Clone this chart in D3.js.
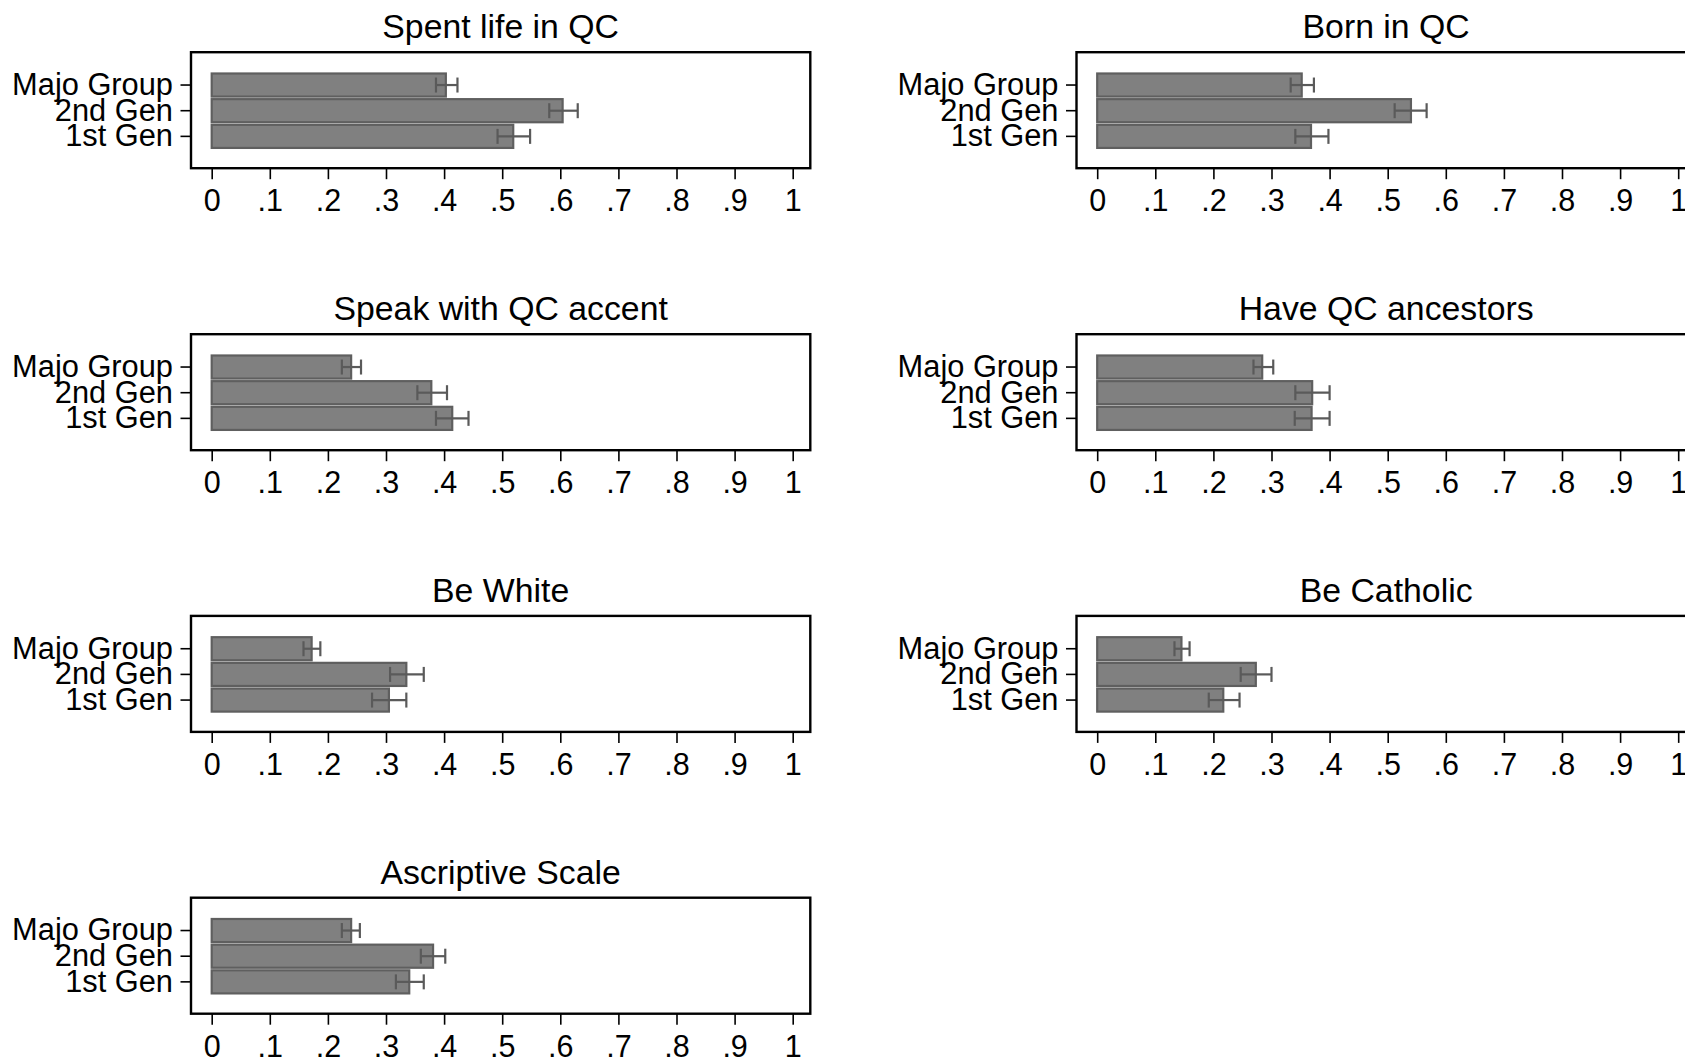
<!DOCTYPE html>
<html>
<head>
<meta charset="utf-8">
<script src="https://cdn.jsdelivr.net/npm/d3@7"></script>
<style>
  html, body { margin: 0; padding: 0; background: #fff; }
  svg { display: block; font-family: "Liberation Sans", Arial, Helvetica, sans-serif; }
</style>
</head>
<body>
<svg id="chart" width="1685" height="1059"></svg>
<script>
// ---- data ----
const categories = ["Majo Group", "2nd Gen", "1st Gen"];
const panelTitles = [
  "Spent life in QC", "Born in QC",
  "Speak with QC accent", "Have QC ancestors",
  "Be White", "Be Catholic",
  "Ascriptive Scale"
];
// means per panel, in category order (Majo Group, 2nd Gen, 1st Gen)
const meanValues = [
  [0.403, 0.604, 0.519],
  [0.352, 0.540, 0.368],
  [0.240, 0.378, 0.414],
  [0.284, 0.370, 0.369],
  [0.172, 0.335, 0.305],
  [0.145, 0.273, 0.217],
  [0.240, 0.381, 0.340]
];
const lowValues = [
  [0.386, 0.581, 0.492],
  [0.333, 0.512, 0.341],
  [0.224, 0.354, 0.386],
  [0.269, 0.341, 0.340],
  [0.158, 0.307, 0.276],
  [0.133, 0.247, 0.192],
  [0.224, 0.360, 0.317]
];
const highValues = [
  [0.423, 0.630, 0.548],
  [0.373, 0.567, 0.398],
  [0.257, 0.405, 0.442],
  [0.303, 0.400, 0.400],
  [0.187, 0.365, 0.335],
  [0.159, 0.300, 0.245],
  [0.255, 0.402, 0.365]
];
const xTickValues = [0, 0.1, 0.2, 0.3, 0.4, 0.5, 0.6, 0.7, 0.8, 0.9, 1];
const xTickLabels = ["0", ".1", ".2", ".3", ".4", ".5", ".6", ".7", ".8", ".9", "1"];

// ---- layout ----
const svg = d3.select("#chart");
const frameW = 619.3, frameH = 116;
const colLeft = [191, 1076.5];
const rowTop = [52.2, 334.2, 615.9, 897.7];
const plotPadL = 20.7, plotPadR = 17.6;

panelTitles.forEach((title, i) => {
  const col = i % 2, row = Math.floor(i / 2);
  const fl = colLeft[col], ft = rowTop[row];
  const g = svg.append("g");

  const x = d3.scaleLinear().domain([0, 1]).range([fl + plotPadL, fl + frameW - plotPadR]);
  const y = d3.scaleBand().domain(categories)
    .range([ft + 20, ft + 97]).paddingInner(0.1).paddingOuter(0.05);

  // frame
  g.append("rect")
    .attr("x", fl).attr("y", ft).attr("width", frameW).attr("height", frameH)
    .attr("fill", "#fff").attr("stroke", "#000").attr("stroke-width", 2.4);

  // title
  g.append("text")
    .attr("x", fl + frameW / 2).attr("y", ft - 14)
    .attr("text-anchor", "middle")
    .attr("font-size", 33.8)
    .attr("fill", "#000")
    .text(title);

  // bars
  g.selectAll("rect.bar").data(categories).enter().append("rect")
    .attr("class", "bar")
    .attr("x", x(0))
    .attr("y", d => y(d))
    .attr("width", (d, j) => x(meanValues[i][j]) - x(0))
    .attr("height", y.bandwidth())
    .attr("fill", "#808080")
    .attr("stroke", "#5f5f5f")
    .attr("stroke-width", 2.2);

  // error bars
  const capH = 15;
  const eb = g.selectAll("g.eb").data(categories).enter().append("g")
    .attr("class", "eb")
    .attr("stroke", "#5a5a5a").attr("stroke-width", 2.2).attr("fill", "none");
  eb.append("line")
    .attr("x1", (d, j) => x(lowValues[i][j]))
    .attr("x2", (d, j) => x(highValues[i][j]))
    .attr("y1", d => y(d) + y.bandwidth() / 2)
    .attr("y2", d => y(d) + y.bandwidth() / 2);
  eb.append("line")
    .attr("x1", (d, j) => x(lowValues[i][j]))
    .attr("x2", (d, j) => x(lowValues[i][j]))
    .attr("y1", d => y(d) + y.bandwidth() / 2 - capH / 2)
    .attr("y2", d => y(d) + y.bandwidth() / 2 + capH / 2);
  eb.append("line")
    .attr("x1", (d, j) => x(highValues[i][j]))
    .attr("x2", (d, j) => x(highValues[i][j]))
    .attr("y1", d => y(d) + y.bandwidth() / 2 - capH / 2)
    .attr("y2", d => y(d) + y.bandwidth() / 2 + capH / 2);

  // x axis
  const xAxis = d3.axisBottom(x)
    .tickValues(xTickValues)
    .tickFormat((d, k) => xTickLabels[k])
    .tickSize(11).tickPadding(10.5);
  const gx = g.append("g").attr("transform", `translate(0,${ft + frameH})`).call(xAxis);
  gx.select(".domain").remove();
  gx.selectAll(".tick line").attr("stroke", "#000").attr("stroke-width", 1.6);
  gx.selectAll(".tick text").attr("font-size", 30.5).attr("fill", "#000")
    .attr("font-family", "Liberation Sans, Arial, sans-serif");

  // y axis
  const yAxis = d3.axisLeft(y).tickSize(10.5).tickPadding(7.5);
  const gy = g.append("g").attr("transform", `translate(${fl},0)`).call(yAxis);
  gy.select(".domain").remove();
  gy.selectAll(".tick line").attr("stroke", "#000").attr("stroke-width", 1.6);
  gy.selectAll(".tick text").attr("font-size", 30.8).attr("fill", "#000")
    .attr("font-family", "Liberation Sans, Arial, sans-serif");
});
</script>
</body>
</html>
